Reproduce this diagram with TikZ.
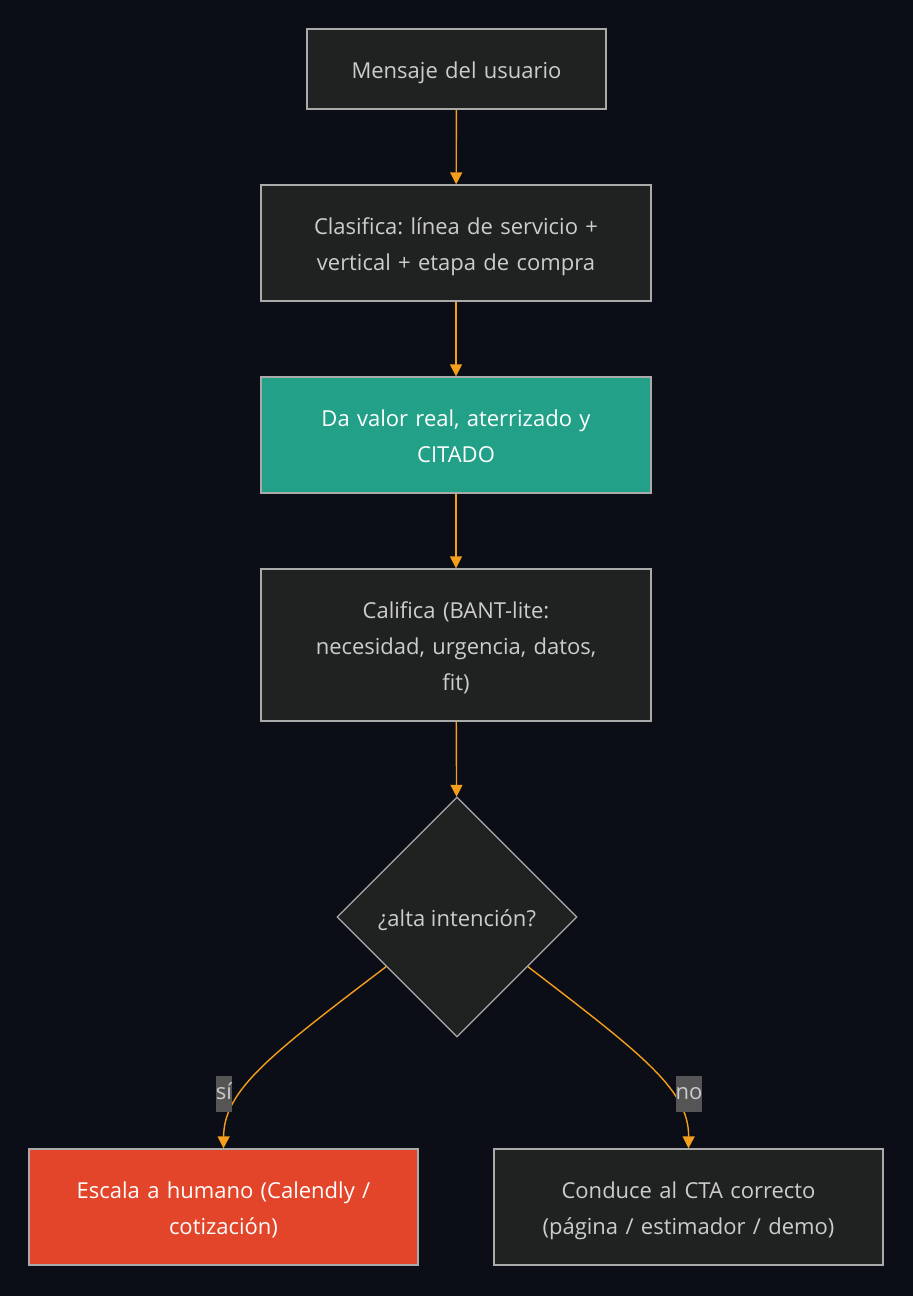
\documentclass[tikz,border=0pt]{standalone}
\usepackage{fontspec}
\setmainfont{Open Sans}
\usepackage{tikz}
\usetikzlibrary{arrows.meta, shapes.geometric, positioning}
\definecolor{flowbg}     {RGB}{ 11,  14,  22}
\definecolor{flowbox}    {RGB}{ 32,  34,  33}
\definecolor{flowedge}   {RGB}{170, 170, 170}
\definecolor{flowtext}   {RGB}{204, 204, 204}
\definecolor{flowteal}   {RGB}{ 34, 161, 136}
\definecolor{flowred}    {RGB}{226,  69,  41}
\definecolor{floworange} {RGB}{245, 158,  27}
\definecolor{flowlabel}  {RGB}{ 85,  85,  85}
\frenchspacing

\begin{document}
\begin{tikzpicture}[x=1pt, y=-1pt,
		font=\fontsize{22}{36}\selectfont,
		% struts so the lines sit as in the flowchart
		lines/.style={execute at begin node={\rule{0pt}{26.5pt}},
			execute at end node={\rule[-7pt]{0pt}{0pt}}},
		box/.style={lines, draw=flowedge, line width=1.3pt, fill=flowbox, text=flowtext,
			text width=370pt, align=center, inner sep=0pt, minimum width=390pt, minimum height=116pt},
		dec/.style={lines, diamond, draw=flowedge, line width=1.3pt, fill=flowbox, text=flowtext,
			inner sep=0pt, minimum width=240pt, minimum height=240pt},
		arr/.style={floworange, line width=1.4pt, -{Triangle[length=12pt,width=12pt]}},
		lbl/.style={fill=flowlabel, text=flowtext, inner xsep=0pt, inner ysep=0pt,
			minimum height=36pt, text height=16pt, text depth=5pt}
	]
	\fill[flowbg] (0,0) rectangle (913,1296);
	\useasboundingbox (0,0) rectangle (913,1296);

	\node[box, text width=280pt, minimum width=299pt, minimum height=80pt] (msg) at (456.5,69) {Mensaje del usuario};
	\node[box] (clas) at (456,243) {Clasifica: línea de servicio +\\vertical + etapa de compra};
	\node[box, fill=flowteal, text=white] (valor) at (456,435) {Da valor real, aterrizado y\\CITADO};
	\node[box, minimum height=152pt] (calif) at (456,645) {Califica (BANT-lite:\\necesidad, urgencia, datos,\\fit)};
	\node[dec] (alta) at (457,917) {¿alta intención?};
	\node[box, minimum width=389pt, fill=flowred, text=white] (escala) at (223.5,1207) {Escala a humano (Calendly /\\cotización)};
	\node[box, minimum width=389pt] (cta) at (688.5,1207) {Conduce al CTA correcto\\(página / estimador / demo)};

	\draw[arr] (msg) -- (clas);
	\draw[arr] (clas) -- (valor);
	\draw[arr] (valor) -- (calif);
	\draw[arr] (calif) -- (alta);
	\draw[arr] (alta.215) .. controls (270,1055) and (224,1090) .. (escala.north);
	\draw[arr] (alta.-35) .. controls (643,1055) and (689,1090) .. (cta.north);

	\node[lbl] (si) at (224,1094) {sí};
	\node[lbl] (no) at (689,1094) {no};
\end{tikzpicture}
\end{document}
